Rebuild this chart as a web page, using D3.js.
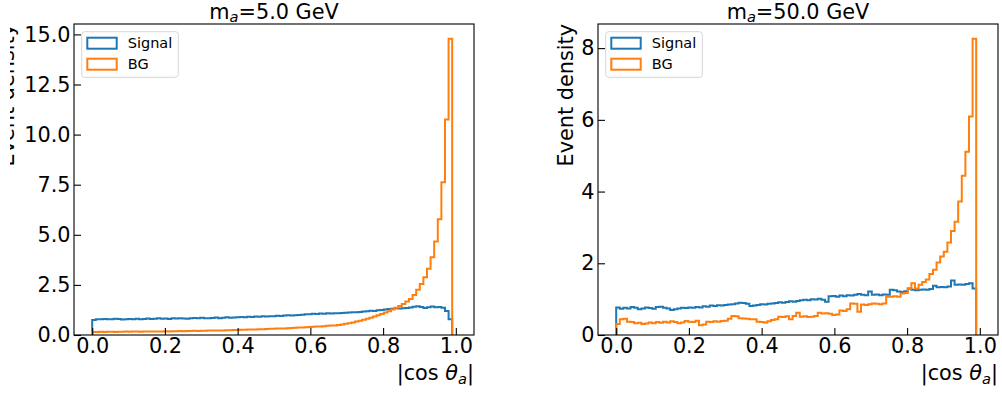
<!DOCTYPE html>
<html>
<head>
<meta charset="utf-8">
<script src="https://cdn.jsdelivr.net/npm/d3@7"></script>
<style>
  body { margin: 0; background: #fff; }
  svg { font-family: "DejaVu Sans", sans-serif; display: block; }
</style>
</head>
<body>
<div class="canvas"></div>
<script>
// Data: 100 bins of |cos theta_a| between binLo and binHi
const binLo = 0, binHi = 0.99;
const xTicks = [0, 0.2, 0.4, 0.6, 0.8, 1.0];
const yTicksA = [0, 2.5, 5, 7.5, 10, 12.5, 15];
const yTicksB = [0, 2, 4, 6, 8];
const masses = ["5.0", "50.0"];
const seriesNames = ["Signal", "BG"];

// m_a = 5 GeV
const sigA = [
  0.75,0.78,0.79,0.80,0.78,0.79,0.81,0.80,0.77,0.79,
  0.80,0.78,0.81,0.79,0.80,0.82,0.80,0.81,0.83,0.81,
  0.82,0.80,0.83,0.82,0.84,0.82,0.81,0.83,0.85,0.84,
  0.86,0.83,0.84,0.85,0.87,0.84,0.86,0.88,0.86,0.87,
  0.88,0.90,0.89,0.91,0.90,0.92,0.91,0.93,0.92,0.94,
  0.94,0.96,0.95,0.97,0.98,0.97,0.99,1.00,1.01,1.03,
  1.04,1.06,1.05,1.07,1.06,1.08,1.07,1.09,1.08,1.10,
  1.11,1.12,1.14,1.13,1.15,1.17,1.19,1.21,1.20,1.23,
  1.25,1.27,1.30,1.31,1.33,1.32,1.34,1.35,1.37,1.41,
  1.44,1.40,1.35,1.38,1.42,1.39,1.40,1.36,1.20,0.78];
const bgA = [
  0.15,0.15,0.16,0.15,0.16,0.16,0.15,0.16,0.16,0.17,
  0.16,0.17,0.17,0.16,0.17,0.18,0.17,0.18,0.18,0.18,
  0.19,0.18,0.19,0.19,0.20,0.19,0.20,0.20,0.21,0.20,
  0.21,0.21,0.22,0.22,0.23,0.22,0.23,0.24,0.24,0.25,
  0.25,0.26,0.26,0.27,0.28,0.28,0.29,0.29,0.30,0.31,
  0.31,0.32,0.33,0.33,0.34,0.35,0.36,0.37,0.38,0.39,
  0.40,0.41,0.42,0.43,0.44,0.46,0.47,0.48,0.50,0.52,
  0.56,0.59,0.63,0.67,0.71,0.76,0.81,0.86,0.92,0.98,
  1.05,1.12,1.19,1.27,1.36,1.45,1.55,1.67,1.80,2.00,
  2.26,2.55,2.88,3.30,3.88,4.66,5.77,7.62,10.75,14.78];

// m_a = 50 GeV
const sigB = [
  0.77,0.73,0.76,0.74,0.78,0.76,0.72,0.74,0.77,0.75,
  0.73,0.78,0.79,0.76,0.74,0.70,0.72,0.74,0.76,0.75,
  0.77,0.76,0.78,0.77,0.80,0.79,0.82,0.81,0.83,0.82,
  0.84,0.85,0.86,0.88,0.90,0.89,0.87,0.81,0.82,0.84,
  0.86,0.85,0.87,0.88,0.89,0.91,0.90,0.92,0.94,0.93,
  0.95,0.97,0.98,0.97,1.00,0.99,1.01,0.98,0.93,1.08,
  1.09,1.07,1.10,1.08,1.11,1.10,1.12,1.14,1.12,1.11,
  1.21,1.12,1.13,1.11,1.13,1.12,1.26,1.25,1.21,1.20,
  1.22,1.30,1.26,1.25,1.26,1.27,1.26,1.28,1.37,1.33,
  1.34,1.33,1.35,1.52,1.40,1.41,1.40,1.42,1.44,1.30];
const bgB = [
  0.31,0.44,0.45,0.37,0.36,0.33,0.34,0.31,0.32,0.35,
  0.33,0.36,0.34,0.37,0.35,0.38,0.36,0.33,0.35,0.39,
  0.37,0.36,0.40,0.27,0.29,0.37,0.36,0.38,0.37,0.39,
  0.40,0.45,0.53,0.52,0.47,0.46,0.45,0.44,0.44,0.37,
  0.36,0.35,0.38,0.42,0.44,0.51,0.50,0.52,0.44,0.53,
  0.62,0.51,0.52,0.50,0.51,0.53,0.62,0.60,0.61,0.59,
  0.56,0.57,0.68,0.67,0.72,0.88,0.87,0.65,0.85,0.84,
  0.86,0.88,0.87,0.86,0.88,1.07,1.07,1.08,1.07,1.16,
  1.17,1.30,1.44,1.30,1.40,1.48,1.55,1.70,1.82,2.02,
  2.19,2.32,2.58,2.90,3.16,3.72,4.44,5.11,6.09,8.26];

const colors = ["#1f77b4", "#ff7f0e"];

const width = 1002, height = 394;
const fontSize = 20.8, subSize = 14.6;
const svg = d3.select('.canvas')
    .append('svg')
    .attr('width', width)
    .attr('height', height);

// the left panel's y label is cut off in the original figure
svg.append('defs').append('clipPath').attr('id', 'cutLeft')
  .append('rect').attr('x', 10).attr('y', 0).attr('width', width).attr('height', height);

const panels = [
  { left: 74, sig: sigA, bg: bgA, yTicks: yTicksA, fmt: d3.format('.1f'), mass: masses[0], ylx: -60.5, clip: true },
  { left: 598, sig: sigB, bg: bgB, yTicks: yTicksB, fmt: d3.format('d'), mass: masses[1], ylx: -25, clip: false }
];
const plotTop = 24, pw = 400, ph = 311;

panels.forEach(p => drawPanel(p));

function drawPanel(p) {
  const outer = svg.append('g');
  if (p.clip) outer.attr('clip-path', 'url(#cutLeft)');
  const g = outer.append('g').attr('transform', `translate(${p.left},${plotTop})`);

  const x = d3.scaleLinear().domain([-0.05, 1.05]).range([0, pw]);
  const yMax = d3.max(p.sig.concat(p.bg)) * 1.05;
  const y = d3.scaleLinear().domain([0, yMax]).range([ph, 0]);

  // histograms (step outlines)
  const line = d3.line().x(d => x(d[0])).y(d => y(d[1]));
  [p.sig, p.bg].forEach((vals, k) => {
    const n = vals.length;
    const edge = i => binLo + (binHi - binLo) * i / n;
    const pts = [[edge(0), 0]];
    vals.forEach((v, i) => { pts.push([edge(i), v]); pts.push([edge(i + 1), v]); });
    pts.push([edge(n), 0]);
    g.append('path')
      .attr('d', line(pts))
      .attr('fill', 'none')
      .attr('stroke', colors[k])
      .attr('stroke-width', 2)
      .attr('stroke-linejoin', 'miter');
  });

  // axes, ticks pointing inward
  const xAxis = g.append('g').attr('transform', `translate(0,${ph})`)
    .call(d3.axisBottom(x).tickValues(xTicks).tickFormat(d3.format('.1f'))
      .tickSizeInner(-7).tickSizeOuter(0).tickPadding(3.5));
  const yAxis = g.append('g')
    .call(d3.axisLeft(y).tickValues(p.yTicks).tickFormat(p.fmt)
      .tickSizeInner(-7).tickSizeOuter(0).tickPadding(3.5));
  [xAxis, yAxis].forEach(a => {
    a.select('.domain').remove();
    a.selectAll('line').attr('stroke', '#000').attr('stroke-width', 1.1);
    a.selectAll('text').attr('fill', '#000').style('font-size', fontSize + 'px')
      .style('font-family', '"DejaVu Sans", sans-serif');
  });

  // frame
  g.append('rect')
    .attr('width', pw).attr('height', ph)
    .attr('fill', 'none').attr('stroke', '#000').attr('stroke-width', 1.1);

  // title
  const t = g.append('text')
    .attr('x', pw / 2).attr('y', -5.5)
    .attr('text-anchor', 'middle')
    .style('font-size', fontSize + 'px');
  t.append('tspan').text('m');
  t.append('tspan').attr('dy', 3.5).style('font-size', subSize + 'px').style('font-style', 'italic').text('a');
  t.append('tspan').attr('dy', -3.5).text('=' + p.mass + ' GeV');

  // x label
  const xl = g.append('text')
    .attr('x', pw).attr('y', 356)
    .attr('text-anchor', 'end')
    .style('font-size', fontSize + 'px');
  xl.append('tspan').text('|cos ');
  xl.append('tspan').style('font-style', 'italic').text('θ');
  xl.append('tspan').attr('dy', 3.5).style('font-style', 'italic').style('font-size', subSize + 'px').text('a');
  xl.append('tspan').attr('dy', -3.5).text('|');

  // y label (top aligned)
  g.append('text')
    .attr('transform', `translate(${p.ylx},0) rotate(-90)`)
    .attr('text-anchor', 'end')
    .style('font-size', fontSize + 'px')
    .text('Event density');

  // legend
  const lg = g.append('g').attr('transform', 'translate(7.7,7.7)');
  lg.append('rect')
    .attr('width', 96.6).attr('height', 45.6).attr('rx', 3)
    .attr('fill', '#fff').attr('fill-opacity', 0.8)
    .attr('stroke', '#d6d6d6').attr('stroke-width', 1);
  seriesNames.forEach((name, k) => {
    const yy = 6 + k * 21;
    lg.append('rect')
      .attr('x', 5.6).attr('y', yy).attr('width', 29.4).attr('height', 11)
      .attr('fill', 'none').attr('stroke', colors[k]).attr('stroke-width', 2);
    lg.append('text')
      .attr('x', 46).attr('y', yy + 10.7)
      .style('font-size', '14.5px')
      .text(name);
  });
}
</script>
</body>
</html>
